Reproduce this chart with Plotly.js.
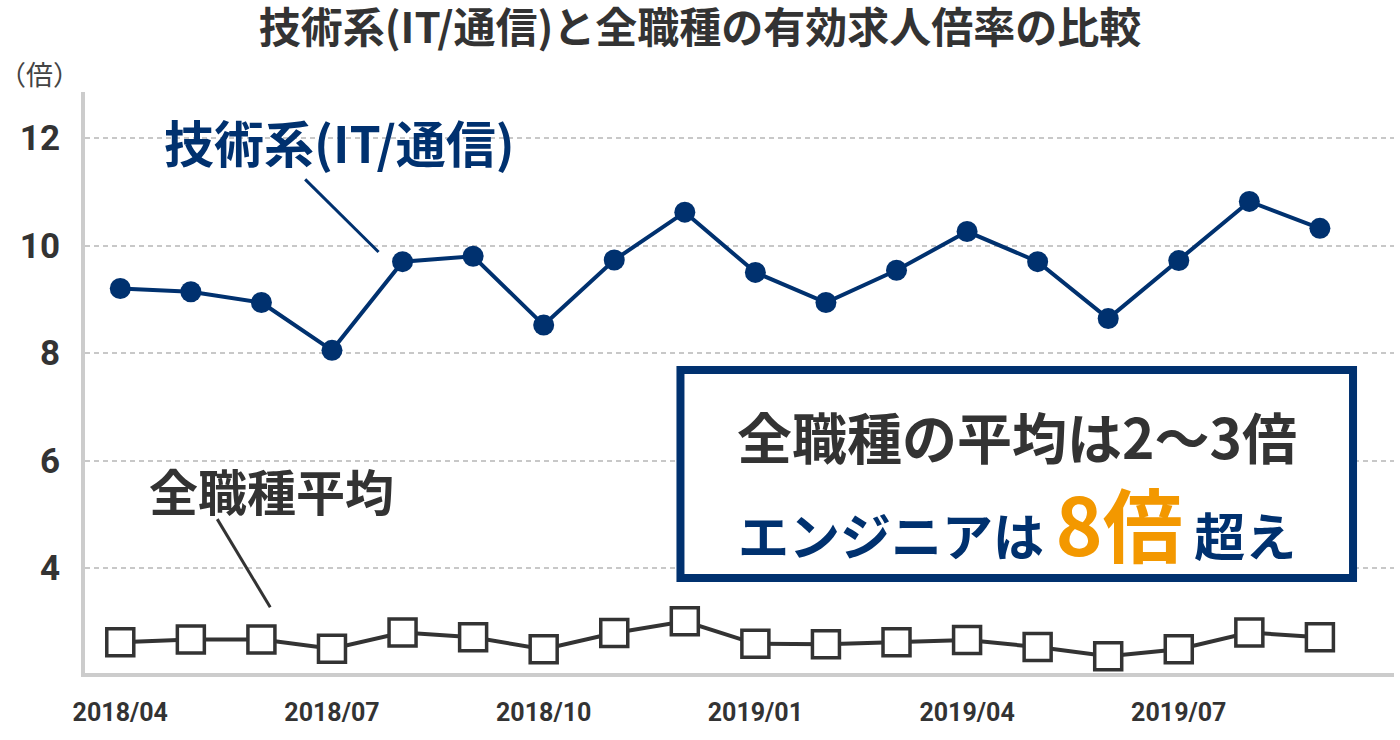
<!DOCTYPE html>
<html>
<head>
<meta charset="utf-8">
<script src="https://cdn.plot.ly/plotly-3.0.1.min.js"></script>
<style>
  html, body { margin: 0; padding: 0; background: #fff; }
  #graph { width: 1400px; height: 740px; }
</style>
</head>
<body>
<div id="graph"></div>
<script>
// months on the x axis
var months = ["2018/04", "2018/05", "2018/06", "2018/07", "2018/08", "2018/09",
              "2018/10", "2018/11", "2018/12", "2019/01", "2019/02", "2019/03",
              "2019/04", "2019/05", "2019/06", "2019/07", "2019/08", "2019/09"];
// 技術系(IT/通信) 有効求人倍率
var techRatio = [9.20, 9.14, 8.94, 8.05, 9.70, 9.80, 8.52, 9.73, 10.62,
                 9.50, 8.94, 9.54, 10.26, 9.70, 8.64, 9.72, 10.82, 10.32];
// 全職種平均
var allRatio = [2.62, 2.67, 2.67, 2.50, 2.80, 2.71, 2.49, 2.79, 3.01,
                2.59, 2.58, 2.62, 2.66, 2.53, 2.36, 2.49, 2.80, 2.71];
var tickMonths = ["2018/04", "2018/07", "2018/10", "2019/01", "2019/04", "2019/07"];
var yTicks = [4, 6, 8, 10, 12];

var NAVY = "#00316f";
var DARK = "#333333";
var ORANGE = "#f39800";
var JP = "Noto Sans CJK JP";

var traces = [
  {
    x: months, y: techRatio, name: "技術系(IT/通信)",
    mode: "lines+markers", type: "scatter",
    line: {color: NAVY, width: 4},
    marker: {color: NAVY, size: 21, symbol: "circle"}
  },
  {
    x: months, y: allRatio, name: "全職種平均",
    mode: "lines+markers", type: "scatter",
    line: {color: DARK, width: 4},
    marker: {color: "#ffffff", size: 27, symbol: "square", line: {color: DARK, width: 3.5}}
  }
];

var layout = {
  width: 1400, height: 740,
  autosize: false,
  showlegend: false,
  hovermode: false,
  paper_bgcolor: "#ffffff",
  plot_bgcolor: "#ffffff",
  margin: {l: 85, r: 6, t: 92, b: 67},
  title: {
    text: "技術系(IT/通信)と全職種の有効求人倍率の比較",
    font: {family: JP, size: 42, color: DARK, weight: "bold"},
    xref: "container", x: 0.5, xanchor: "center",
    yref: "container", y: 0.962, yanchor: "middle"
  },
  xaxis: {
    type: "category",
    range: [-0.5, 18.05],
    tickvals: tickMonths,
    ticktext: tickMonths,
    showgrid: false, zeroline: false,
    showline: true, linecolor: "#cccccc", linewidth: 4,
    ticks: "", ticklabelstandoff: 14,
    tickfont: {family: "Roboto", size: 25, color: DARK, weight: "bold"}
  },
  yaxis: {
    range: [2.047, 12.856],
    tickvals: yTicks,
    showgrid: true, gridcolor: "#c8c8c8", gridwidth: 2, griddash: "5px,4px",
    zeroline: false,
    showline: true, linecolor: "#cccccc", linewidth: 4,
    ticks: "", ticklabelstandoff: 14,
    tickfont: {family: "Roboto", size: 35, color: DARK, weight: "bold"}
  },
  shapes: [
    // leader lines
    {type: "line", xref: "x", yref: "y", x0: 2.62, y0: 11.23, x1: 3.66, y1: 9.88,
     line: {color: NAVY, width: 3}},
    {type: "line", xref: "x", yref: "y", x0: 1.374, y0: 4.91, x1: 2.125, y1: 3.27,
     line: {color: DARK, width: 3}},
    // message box
    {type: "rect", xref: "paper", yref: "paper", x0: 0.4549, x1: 0.9687, y0: 0.1635, y1: 0.5215,
     fillcolor: "#ffffff", line: {color: NAVY, width: 8}, layer: "above"}
  ],
  annotations: [
    {text: "（倍）", xref: "paper", yref: "paper", x: -0.035, y: 1.031,
     showarrow: false, xanchor: "center", yanchor: "middle",
     font: {family: JP, size: 27, color: "#444444"}},
    {text: "技術系(IT/通信)", xref: "x", yref: "y", x: 3.11, y: 11.94,
     showarrow: false, xanchor: "center", yanchor: "middle",
     font: {family: JP, size: 50, color: NAVY, weight: "bold"}},
    {text: "全職種平均", xref: "x", yref: "y", x: 2.146, y: 5.46,
     showarrow: false, xanchor: "center", yanchor: "middle",
     font: {family: JP, size: 49, color: DARK, weight: "bold"}},
    {text: "全職種の平均は2〜3倍", xref: "paper", yref: "paper", x: 0.712, y: 0.4096,
     showarrow: false, xanchor: "center", yanchor: "middle",
     font: {family: JP, size: 55, color: DARK, weight: "bold"}},
    {text: "エンジニアは <span style='color:" + ORANGE + ";font-size:80px'>8倍</span> 超え",
     xref: "paper", yref: "paper", x: 0.712, y: 0.262,
     showarrow: false, xanchor: "center", yanchor: "middle",
     font: {family: JP, size: 51, color: NAVY, weight: "bold"}}
  ]
};

Plotly.newPlot("graph", traces, layout, {displayModeBar: false, staticPlot: true});
</script>
</body>
</html>
